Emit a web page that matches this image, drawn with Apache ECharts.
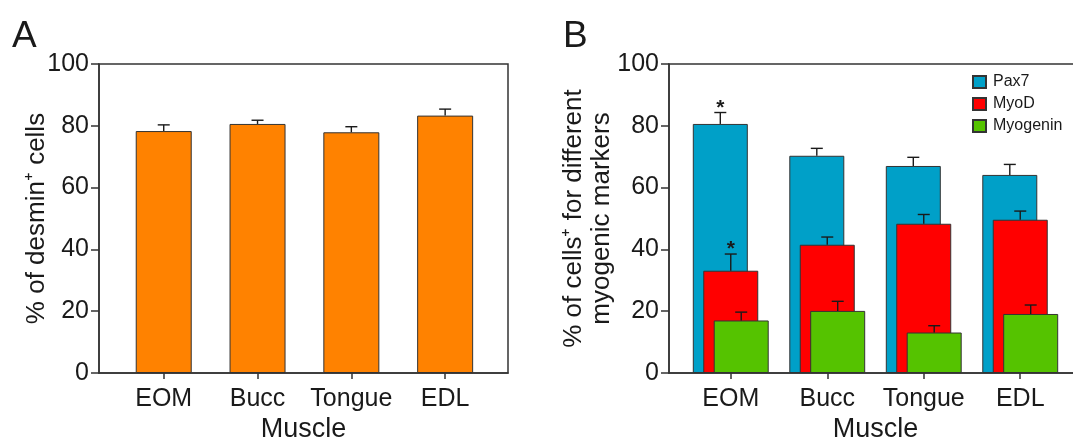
<!DOCTYPE html>
<html>
<head>
<meta charset="utf-8">
<script src="https://cdn.jsdelivr.net/npm/echarts@6/dist/echarts.min.js"></script>
<style>
  html, body { margin: 0; background: #fff; }
  #chart { width: 1073px; height: 437px; }
</style>
</head>
<body>
<div id="chart"></div>
<script>
// data
const muscles = ['EOM', 'Bucc', 'Tongue', 'EDL'];
const muscleIdx = [0, 1, 2, 3];

// panel A: % of desmin+ cells
const desmin = [78.3, 80.6, 77.9, 83.3];
const desminErr = [2.0, 1.2, 1.8, 2.1];

// panel B: myogenic markers
const pax7 = [80.6, 70.3, 67.0, 64.1];
const pax7Err = [3.7, 2.4, 2.8, 3.4];
const pax7Sig = ['*', '', '', ''];
const myod = [33.1, 41.5, 48.3, 49.6];
const myodErr = [5.4, 2.5, 3.0, 2.8];
const myodSig = ['*', '', '', ''];
const myogenin = [17.0, 20.1, 13.1, 19.1];
const myogeninErr = [2.7, 3.1, 2.2, 2.9];

const FONT = '"Liberation Sans", Arial, Helvetica, sans-serif';
const INK = '#1a1a1a';
const EDGE = '#333';
const BAR_W_A = 56;
const BAR_W_B = 55;
const BAR_GAP_B = -0.81;
const STEP_B = BAR_W_B * (1 + BAR_GAP_B); // distance between overlapped bars

const chart = echarts.init(document.getElementById('chart'));

function xAxisFor(gridIndex, min, max) {
  return {
    type: 'value', gridIndex: gridIndex, min: min, max: max,
    name: 'Muscle', nameLocation: 'middle', nameGap: 43, nameMoveOverlap: false,
    nameTextStyle: { fontSize: 27, color: INK, fontFamily: FONT },
    axisLine: { onZero: false, lineStyle: { color: EDGE, width: 1.5 } },
    axisTick: { customValues: muscleIdx, length: 6, lineStyle: { color: EDGE, width: 1.5 } },
    axisLabel: {
      customValues: muscleIdx, margin: 14,
      fontSize: 25, color: INK, fontFamily: FONT,
      formatter: (v) => muscles[Math.round(v)]
    },
    splitLine: { show: false }
  };
}

function yAxisFor(gridIndex, name, nameGap) {
  return {
    type: 'value', gridIndex: gridIndex, min: 0, max: 100, interval: 20,
    name: name, nameLocation: 'middle', nameGap: nameGap, nameRotate: 90, nameMoveOverlap: false,
    nameTextStyle: { fontSize: 26, color: INK, fontFamily: FONT, lineHeight: 28, align: 'center' },
    axisLine: { show: true, onZero: false, lineStyle: { color: EDGE, width: 1.5 } },
    axisTick: { show: true, length: 8, lineStyle: { color: EDGE, width: 1.5 } },
    axisLabel: { margin: 10, fontSize: 25, color: INK, fontFamily: FONT },
    splitLine: { show: false }
  };
}

function barSeries(name, axisIndex, values, color, width, gap) {
  return {
    name: name, type: 'bar', xAxisIndex: axisIndex, yAxisIndex: axisIndex,
    data: values.map((v, i) => [muscleIdx[i], v]),
    barWidth: width, barGap: gap,
    itemStyle: { color: color, borderColor: EDGE, borderWidth: 1 },
    emphasis: { disabled: true },
    z: 2
  };
}

function errSeries(name, axisIndex, values, errs, marks, shift) {
  return {
    name: name, type: 'custom', xAxisIndex: axisIndex, yAxisIndex: axisIndex,
    data: values.map((v, i) => [muscleIdx[i], v, errs[i]]),
    encode: { x: 0, y: 1 },
    z: 5, silent: true,
    renderItem: function (params, api) {
      const x = api.value(0), v = api.value(1), e = api.value(2);
      const p0 = api.coord([x, v]);
      const p1 = api.coord([x, v + e]);
      const cx = p0[0] + shift;
      const st = { stroke: INK, lineWidth: 1.4 };
      const kids = [
        { type: 'line', shape: { x1: cx, y1: p0[1], x2: cx, y2: p1[1] }, style: st },
        { type: 'line', shape: { x1: cx - 6, y1: p1[1], x2: cx + 6, y2: p1[1] }, style: st }
      ];
      const mk = marks && marks[params.dataIndex];
      if (mk) {
        kids.push({
          type: 'text', x: cx, y: p1[1] + 6,
          style: { text: mk, fontSize: 21, fontWeight: 'bold', fontFamily: FONT,
                   fill: INK, align: 'center', verticalAlign: 'bottom' }
        });
      }
      return { type: 'group', children: kids };
    }
  };
}

const option = {
  backgroundColor: '#fff',
  animation: false,
  title: [
    { text: 'A', left: 7, top: 13, textStyle: { fontSize: 37, fontWeight: 'normal', color: INK, fontFamily: FONT } },
    { text: 'B', left: 558, top: 13, textStyle: { fontSize: 37, fontWeight: 'normal', color: INK, fontFamily: FONT } }
  ],
  legend: {
    data: ['Pax7', 'MyoD', 'Myogenin'],
    orient: 'vertical', left: 967, top: 69,
    icon: 'rect', itemWidth: 13, itemHeight: 12, itemGap: 6,
    selectedMode: false,
    textStyle: { fontSize: 16, color: INK, fontFamily: FONT, padding: [0, 0, 0, 2] }
  },
  grid: [
    { left: 99, top: 64, width: 409, height: 309, outerBoundsMode: 'none', containLabel: false,
      show: true, borderColor: EDGE, borderWidth: 1.5 },
    { left: 669, top: 64, width: 413, height: 309, outerBoundsMode: 'none', containLabel: false,
      show: true, borderColor: EDGE, borderWidth: 1.5 }
  ],
  xAxis: [
    xAxisFor(0, -0.69, 3.67),
    xAxisFor(1, -0.64, 3.64)
  ],
  yAxis: [
    yAxisFor(0, '% of desmin\u207A cells', 48),
    yAxisFor(1, '% of cells\u207A for different\nmyogenic markers', 53)
  ],
  series: [
    barSeries('Desmin', 0, desmin, '#FF8200', BAR_W_A, '0%'),
    errSeries('Desmin err', 0, desmin, desminErr, null, 0),

    barSeries('Pax7', 1, pax7, '#00A0C8', BAR_W_B, (BAR_GAP_B * 100) + '%'),
    barSeries('MyoD', 1, myod, '#FF0000', BAR_W_B, (BAR_GAP_B * 100) + '%'),
    barSeries('Myogenin', 1, myogenin, '#55C300', BAR_W_B, (BAR_GAP_B * 100) + '%'),
    errSeries('Pax7 err', 1, pax7, pax7Err, pax7Sig, -STEP_B),
    errSeries('MyoD err', 1, myod, myodErr, myodSig, 0),
    errSeries('Myogenin err', 1, myogenin, myogeninErr, null, STEP_B)
  ]
};

chart.setOption(option);
</script>
</body>
</html>
